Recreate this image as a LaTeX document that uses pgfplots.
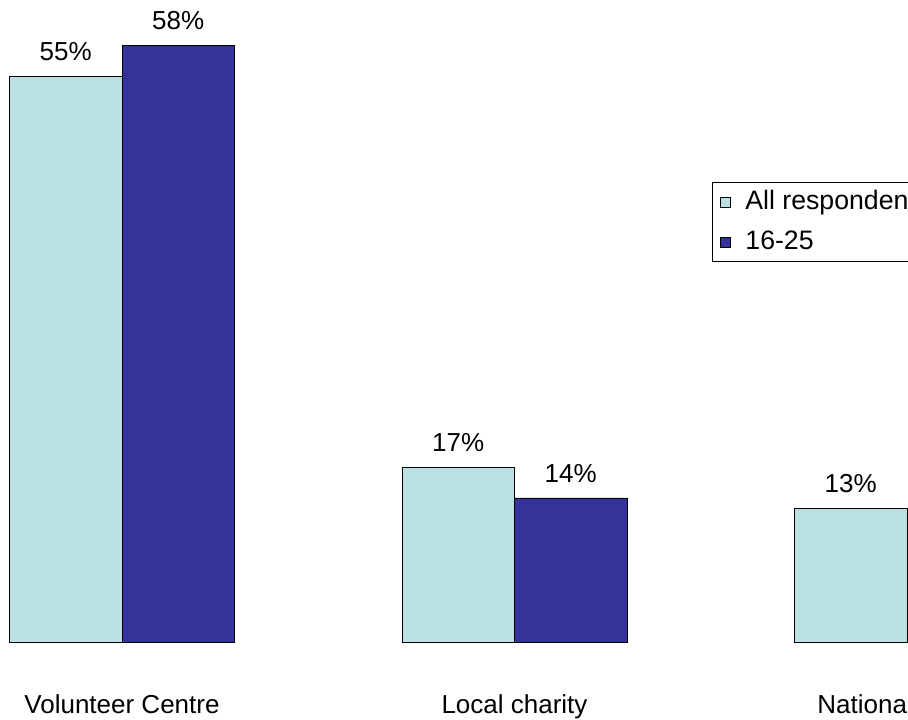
\documentclass[border=0pt]{standalone}
\usepackage{pgfplots}
\pgfplotsset{compat=1.18}
\usepackage{fontspec}
\setmainfont{Liberation Sans}

\definecolor{allresp}{RGB}{185,225,228}
\definecolor{young}{RGB}{51,51,153}

\pgfplotsset{
  sqlegend/.style={legend image code/.code={
    \draw[##1, draw=black, line width=0.6pt] (0pt,-3.75pt) rectangle (7.5pt,3.75pt);
    \path[draw=none, fill=none] (7.5pt,-1pt) rectangle (16.5pt,1pt);}},
}

\begin{document}
\fontsize{19.5}{23.4}\selectfont
\begin{tikzpicture}
% the reference is cut off on the right, so crop the picture the same way
\path[use as bounding box, clip] (0,0) rectangle (681pt,539.25pt);
\begin{axis}[
  at={(-55.6875pt,57.75pt)}, anchor=south west,
  scale only axis, width=883.125pt, height=463.05pt,
  xmin=-0.5, xmax=2.5, ymin=0, ymax=60,
  ybar=0pt, bar width=84.375pt,
  axis line style={draw=none}, ytick=\empty,
  xtick=data, xticklabels={Volunteer Centre, Local charity, National charity},
  major tick length=0pt,
  xticklabel style={anchor=north, inner sep=0pt},
  xticklabel shift={39pt},
  /pgf/number format/assume math mode=true,
  nodes near coords={\pgfmathprintnumber{\pgfplotspointmeta}\%},
  nodes near coords style={anchor=south, inner sep=0pt, yshift=11pt, text=black},
  legend style={at={(0.6677,0.745)}, anchor=north west, draw=black,
    line width=0.6pt, fill=white, font=\fontsize{20}{24}\selectfont,
    row sep=9pt, inner xsep=6pt, inner ysep=4pt},
  legend cell align=left,
]
\addplot[fill=allresp, draw=black, line width=0.6pt, sqlegend]
  coordinates {(0,55) (1,17) (2,13)};
\addlegendentry{All respondents}
\addplot[fill=young, draw=black, line width=0.6pt, sqlegend]
  coordinates {(0,58) (1,14)};
\addlegendentry{16-25}
\end{axis}
\end{tikzpicture}
\end{document}
